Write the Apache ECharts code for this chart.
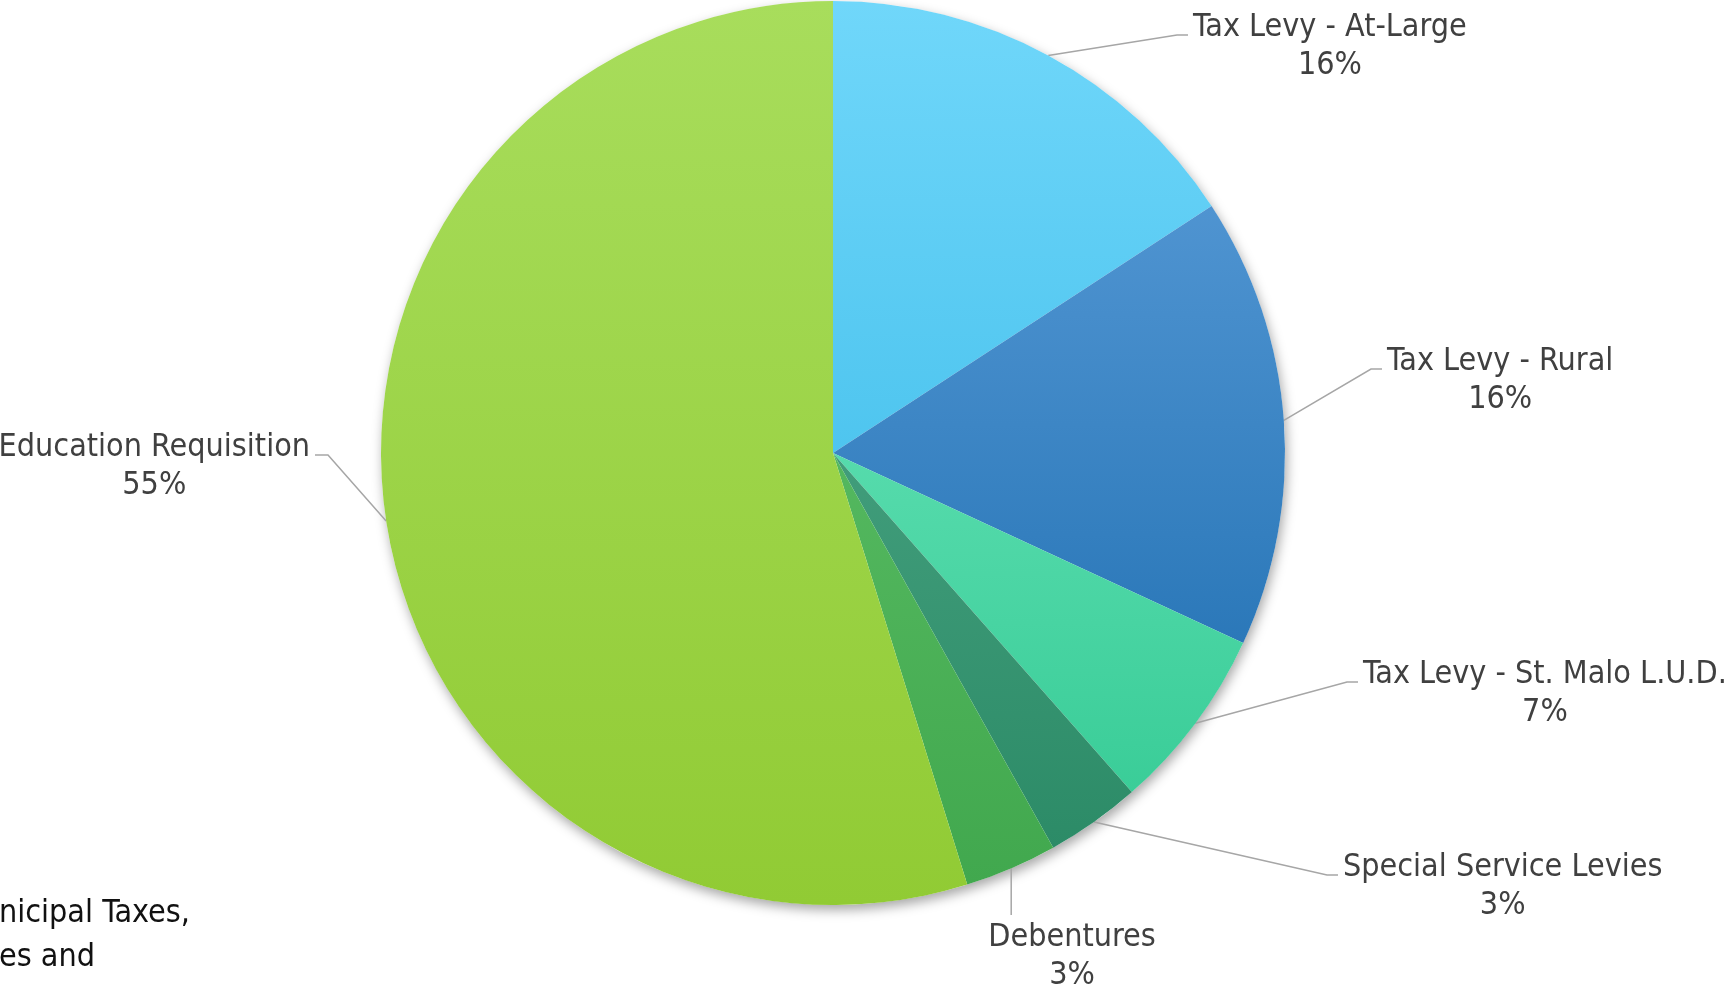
<!DOCTYPE html>
<html><head><meta charset="utf-8">
<script src="https://cdn.jsdelivr.net/npm/echarts@6/dist/echarts.min.js"></script>
<style>html,body{margin:0;padding:0;background:#fff}#c{width:1732px;height:986px}</style>
</head><body><div id="c"></div>
<script>
// ---- data ----
const categories = ['Tax Levy - At-Large', 'Tax Levy - Rural', 'Tax Levy - St. Malo L.U.D.', 'Special Service Levies', 'Debentures', 'Education Requisition'];
const shares = [15.8, 16.1, 6.6, 3.4, 3.3, 54.8];
const footerLines = ['nicipal Taxes,', 'es and'];

// ---- style ----
const topColors = ['#70d7fa', '#4f94d1', '#56dbac', '#419d7b', '#54b85f', '#a8dd5c'];
const bottomColors = ['#4ec5ef', '#2b78b9', '#3acd98', '#2c8b67', '#41a84e', '#91cb34'];
const FONT = '"DejaVu Sans Condensed", "DejaVu Sans", sans-serif';
// label placement: side, text edge x, leader-line y
const labelSpots = [
  { side: 'right', x: 1193, y: 35 },
  { side: 'right', x: 1387, y: 369 },
  { side: 'right', x: 1363, y: 682 },
  { side: 'right', x: 1343, y: 875 },
  { side: 'below', x: 1072, y: 915 },
  { side: 'left', x: 310, y: 455 }
];

const chart = echarts.init(document.getElementById('c'), null, { renderer: 'canvas' });
const CENTER = [833, 453], R = 452;

const pieData = categories.map((name, i) => ({
  name: name,
  value: shares[i],
  itemStyle: {
    color: new echarts.graphic.LinearGradient(0, 0, 0, 1, [
      { offset: 0, color: topColors[i] },
      { offset: 1, color: bottomColors[i] }
    ])
  }
}));

const richStyle = { fontSize: 32, lineHeight: 38, align: 'center', color: '#404040', fontFamily: FONT };

chart.setOption({
  animation: false,
  backgroundColor: '#ffffff',
  series: [
    {
      type: 'pie', silent: true, z: 1,
      center: CENTER, radius: R,
      label: { show: false }, labelLine: { show: false },
      emphasis: { disabled: true },
      itemStyle: { color: '#ffffff', shadowBlur: 12, shadowOffsetX: 2, shadowOffsetY: 5, shadowColor: 'rgba(0,0,0,0.35)' },
      data: [{ value: 1, name: '' }]
    },
    {
      type: 'pie', z: 2,
      center: CENTER, radius: R,
      startAngle: 90, clockwise: true,
      percentPrecision: 0,
      avoidLabelOverlap: false,
      emphasis: { disabled: true },
      itemStyle: { borderWidth: 0 },
      label: {
        show: true, position: 'outside',
        formatter: '{n|{b}}\n{p|{d}%}',
        rich: { n: richStyle, p: richStyle }
      },
      labelLine: { show: true, length: 20, length2: 12, smooth: false, lineStyle: { color: '#a6a6a6', width: 1.5 } },
      labelLayout: function (p) {
        const s = labelSpots[p.dataIndex];
        const a = p.labelLinePoints && p.labelLinePoints[0];
        const OFF = 26, GAP = 5;
        if (s.side === 'right') {
          return { x: s.x, y: s.y - OFF, align: 'left', verticalAlign: 'top',
            labelLinePoints: a ? [a, [s.x - GAP - 11, s.y], [s.x - GAP, s.y]] : undefined };
        }
        if (s.side === 'left') {
          return { x: s.x, y: s.y - OFF, align: 'right', verticalAlign: 'top',
            labelLinePoints: a ? [a, [s.x + GAP + 13, s.y], [s.x + GAP, s.y]] : undefined };
        }
        return { x: s.x, y: s.y + 4, align: 'center', verticalAlign: 'top',
          labelLinePoints: a ? [a, [a[0], s.y], [a[0], s.y]] : undefined };
      },
      data: pieData
    }
  ],
  graphic: [{
    type: 'text', left: -1, top: 892, silent: true,
    style: { text: footerLines.join('\n'), font: '32px ' + FONT, fill: '#111111', lineHeight: 44 }
  }]
});
</script>
</body></html>
